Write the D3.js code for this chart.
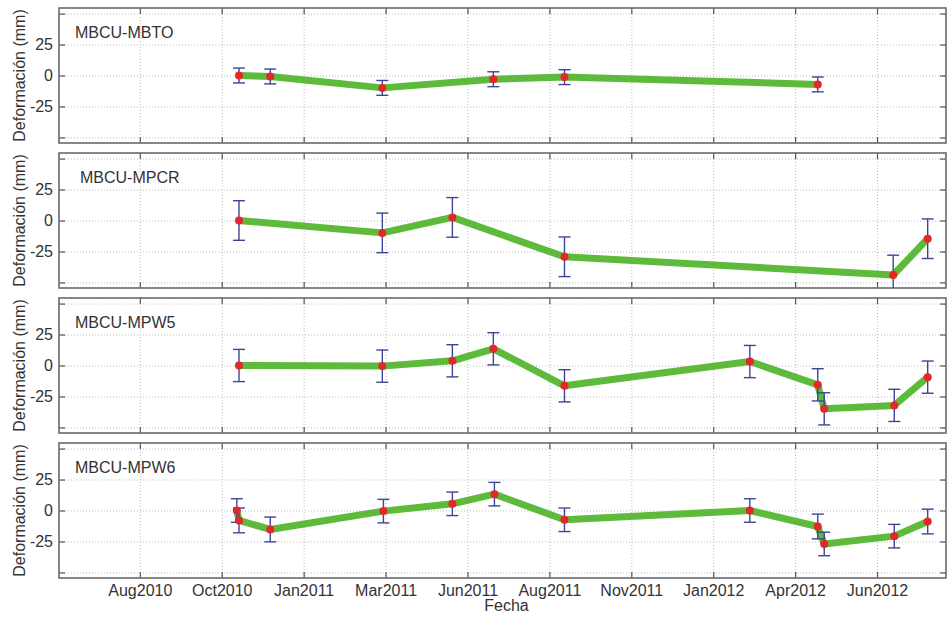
<!DOCTYPE html>
<html>
<head>
<meta charset="utf-8">
<script src="https://cdn.jsdelivr.net/npm/d3@7"></script>
<style>
  body { margin: 0; background: #fff; }
  text { font-family: "Liberation Sans", Arial, sans-serif; fill: #333; }
</style>
</head>
<body>
<svg id="chart" width="950" height="620"></svg>
<script>
const stations = ["MBCU-MBTO", "MBCU-MPCR", "MBCU-MPW5", "MBCU-MPW6"];

const mbtoDates = ["2010-11-10", "2010-12-09", "2011-03-23", "2011-07-04", "2011-09-08", "2012-04-30"];
const mbtoValues = [0, -0.8, -10, -3, -1.3, -7.2];
const mbtoErrors = [6, 6, 6, 6, 6, 6];

const mpcrDates = ["2010-11-10", "2011-03-23", "2011-05-27", "2011-09-08", "2012-07-09", "2012-08-10"];
const mpcrValues = [0, -10, 2.5, -29.3, -44, -14.7];
const mpcrErrors = [16, 16, 16, 16, 16, 16];

const mpw5Dates = ["2010-11-10", "2011-03-23", "2011-05-27", "2011-07-04", "2011-09-08",
                   "2012-02-27", "2012-04-30", "2012-05-06", "2012-07-10", "2012-08-10"];
const mpw5Values = [0, -0.5, 3.8, 13.5, -16.4, 3.2, -15.6, -35, -32.2, -9.4];
const mpw5Errors = [13, 13, 13, 13, 13, 13, 13, 13, 13, 13];

const mpw6Dates = ["2010-11-08", "2010-11-10", "2010-12-09", "2011-03-24", "2011-05-27", "2011-07-05",
                   "2011-09-08", "2012-02-27", "2012-04-30", "2012-05-06", "2012-07-10", "2012-08-10"];
const mpw6Values = [0, -8, -15.3, -0.5, 5.4, 13.2, -7.5, 0, -12.9, -27, -20.7, -8.9];
const mpw6Errors = [9.5, 10, 10, 9.5, 9.5, 9.5, 9.5, 9.5, 10, 9.5, 9.5, 10];

const tickDates = ["2010-08-10", "2010-10-25", "2011-01-09", "2011-03-26", "2011-06-10",
                   "2011-08-25", "2011-11-09", "2012-01-24", "2012-04-09", "2012-06-24"];
const tickLabels = ["Aug2010", "Oct2010", "Jan2011", "Mar2011", "Jun2011",
                    "Aug2011", "Nov2011", "Jan2012", "Apr2012", "Jun2012"];
const yTicks = [-50, -25, 0, 25, 50];

const parse = d3.timeParse("%Y-%m-%d");

const panels = [
  { name: stations[0], dates: mbtoDates, values: mbtoValues, errors: mbtoErrors },
  { name: stations[1], dates: mpcrDates, values: mpcrValues, errors: mpcrErrors },
  { name: stations[2], dates: mpw5Dates, values: mpw5Values, errors: mpw5Errors },
  { name: stations[3], dates: mpw6Dates, values: mpw6Values, errors: mpw6Errors }
];

const left = 59, right = 946;
const panelTop = 8, panelHeight = 135, panelStep = 145;
const tickLen = 6;

const x = d3.scaleTime()
  .domain([parse("2010-05-27"), parse("2012-08-27")])
  .range([left, right]);

const y = d3.scaleLinear()
  .domain([-54.5, 54.5])
  .range([panelHeight, 0]);

const xTicks = tickDates.map(parse);

const svg = d3.select("#chart");

panels.forEach((p, i) => {
  const g = svg.append("g")
    .attr("transform", "translate(0," + (panelTop + i * panelStep) + ")");

  const data = p.dates.map((d, k) => ({ date: parse(d), value: p.values[k], err: p.errors[k] }));

  // grid
  g.append("g")
    .attr("class", "grid")
    .call(d3.axisBottom(x).tickValues(xTicks).tickSize(panelHeight).tickFormat(""))
    .call(s => s.select(".domain").remove())
    .selectAll("line")
    .attr("stroke", "#bdbdbd")
    .attr("stroke-dasharray", "1,2");

  g.append("g")
    .attr("class", "grid")
    .attr("transform", "translate(" + left + ",0)")
    .call(d3.axisLeft(y).tickValues(yTicks).tickSize(-(right - left)).tickFormat(""))
    .call(s => s.select(".domain").remove())
    .selectAll("line")
    .attr("stroke", "#bdbdbd")
    .attr("stroke-dasharray", "1,2");

  // box ticks
  const bottomAxis = d3.axisBottom(x).tickValues(xTicks)
    .tickSizeInner(-tickLen).tickSizeOuter(0).tickPadding(7)
    .tickFormat(i === panels.length - 1 ? (d, k) => tickLabels[k] : "");
  const gb = g.append("g")
    .attr("transform", "translate(0," + panelHeight + ")")
    .call(bottomAxis);

  const gt = g.append("g")
    .call(d3.axisTop(x).tickValues(xTicks).tickSizeInner(-tickLen).tickSizeOuter(0).tickFormat(""));

  const gl = g.append("g")
    .attr("transform", "translate(" + left + ",0)")
    .call(d3.axisLeft(y).tickValues(yTicks).tickSizeInner(-tickLen).tickSizeOuter(0).tickPadding(6)
      .tickFormat(d => Math.abs(d) === 50 ? "" : String(d)));

  const gr = g.append("g")
    .attr("transform", "translate(" + right + ",0)")
    .call(d3.axisRight(y).tickValues(yTicks).tickSizeInner(-tickLen).tickSizeOuter(0).tickFormat(""));

  [gb, gt, gl, gr].forEach(a => {
    a.select(".domain").remove();
    a.selectAll("line").attr("stroke", "#555").attr("stroke-width", 1.2);
    a.selectAll("text").style("font-size", "16px").attr("fill", "#333")
      .style("font-family", "'Liberation Sans', Arial, sans-serif");
  });

  // frame
  g.append("rect")
    .attr("x", left).attr("y", 0)
    .attr("width", right - left).attr("height", panelHeight)
    .attr("fill", "none")
    .attr("stroke", "#6a6a6a")
    .attr("stroke-width", 1.6);

  // series line
  const line = d3.line().x(d => x(d.date)).y(d => y(d.value));
  g.append("path")
    .datum(data)
    .attr("d", line)
    .attr("fill", "none")
    .attr("stroke", "#5dba3b")
    .attr("stroke-width", 7)
    .attr("stroke-linejoin", "round")
    .attr("stroke-linecap", "round");

  // error bars
  const clip = v => Math.max(y.domain()[0], Math.min(y.domain()[1], v));
  const eb = g.append("g").attr("stroke", "#3c4596").attr("stroke-width", 1.4);
  eb.selectAll(".stem").data(data).enter().append("line")
    .attr("x1", d => x(d.date)).attr("x2", d => x(d.date))
    .attr("y1", d => y(clip(d.value + d.err))).attr("y2", d => y(clip(d.value - d.err)));
  eb.selectAll(".capTop").data(data.filter(d => d.value + d.err < y.domain()[1])).enter().append("line")
    .attr("x1", d => x(d.date) - 6).attr("x2", d => x(d.date) + 6)
    .attr("y1", d => y(d.value + d.err)).attr("y2", d => y(d.value + d.err));
  eb.selectAll(".capBot").data(data.filter(d => d.value - d.err > y.domain()[0])).enter().append("line")
    .attr("x1", d => x(d.date) - 6).attr("x2", d => x(d.date) + 6)
    .attr("y1", d => y(d.value - d.err)).attr("y2", d => y(d.value - d.err));

  // points
  g.selectAll(".pt").data(data).enter().append("circle")
    .attr("cx", d => x(d.date)).attr("cy", d => y(d.value))
    .attr("r", 4)
    .attr("fill", "#e5262b");

  // station label
  g.append("text")
    .attr("x", i === 1 ? 80 : 75)
    .attr("y", 30)
    .style("font-size", "16px")
    .text(p.name);

  // y label
  g.append("text")
    .attr("transform", "translate(25," + (panelHeight / 2) + ") rotate(-90)")
    .attr("text-anchor", "middle")
    .style("font-size", "16px")
    .text("Deformación (mm)");
});

svg.append("text")
  .attr("x", (left + right) / 2 + 4)
  .attr("y", 611)
  .attr("text-anchor", "middle")
  .style("font-size", "16px")
  .text("Fecha");
</script>
</body>
</html>
